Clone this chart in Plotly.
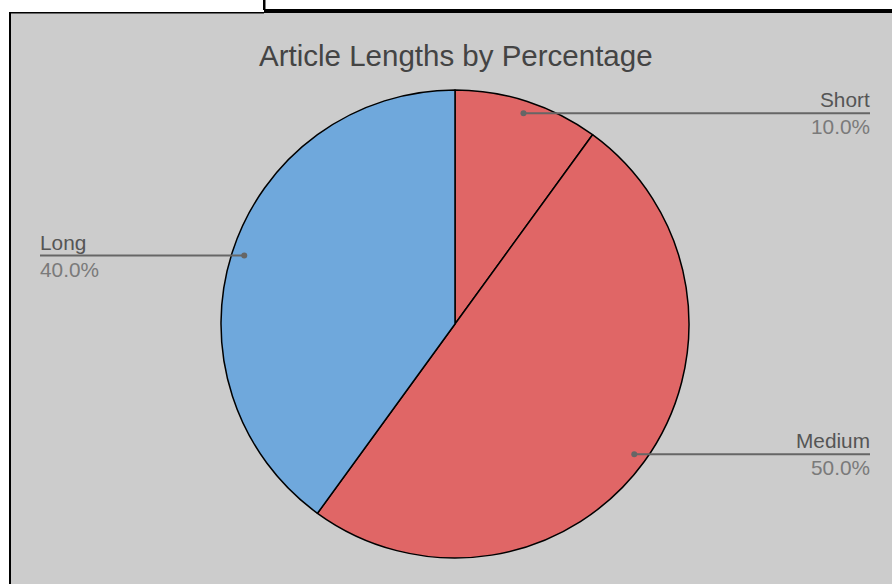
import math
import plotly.graph_objects as go

# Data
categories = ["Short", "Medium", "Long"]
values = [10, 50, 40]
colors = ["#e06666", "#e06666", "#6fa8dc"]
title_text = "Article Lengths by Percentage"

W, H = 892, 584
CX, CY, R = 455, 324, 234


def px(x):
    return x / W


def py(y):
    return 1 - y / H


fig = go.Figure()
fig.add_trace(go.Pie(
    labels=categories, values=values, sort=False, direction="clockwise", rotation=0,
    marker=dict(colors=colors, line=dict(color="#000000", width=1.5)),
    textinfo="none", hoverinfo="label+percent", showlegend=False,
    domain=dict(x=[px(CX - R), px(CX + R)], y=[py(CY + R), py(CY - R)]),
))

shapes = []


def rect(x0, y0, x1, y1, color, layer="below"):
    return dict(type="rect", xref="paper", yref="paper", x0=px(x0), x1=px(x1),
                y0=py(y1), y1=py(y0), fillcolor=color, line=dict(width=0), layer=layer)


shapes.append(rect(10, 12, W, H, "#cccccc"))
shapes.append(rect(9, 12, 11, H, "#000000"))
shapes.append(rect(9, 12, 264, 13.5, "#000000"))
shapes.append(rect(264, 9, W, 13, "#000000"))
shapes.append(rect(263, 0, 265.5, 10, "#000000"))

annotations = [dict(text=title_text, x=px(CX + 1), y=py(56), xref="paper", yref="paper",
                    xanchor="center", yanchor="middle", showarrow=False,
                    font=dict(size=29.5, color="#444444", family="Liberation Sans, Arial"))]

total = sum(values)
cum = 0
for lab, v in zip(categories, values):
    mid = (cum + v / 2) / total * 2 * math.pi
    cum += v
    dr = R * 0.947
    dx = CX + dr * math.sin(mid)
    dy = CY - dr * math.cos(mid)
    right = math.sin(mid) >= 0
    ex = CX + 415 if right else CX - 415
    shapes.append(dict(type="line", xref="paper", yref="paper", x0=px(dx), y0=py(dy),
                       x1=px(ex), y1=py(dy), line=dict(color="#666666", width=2), layer="above"))
    shapes.append(dict(type="circle", xref="paper", yref="paper", x0=px(dx - 3), x1=px(dx + 3),
                       y0=py(dy + 3), y1=py(dy - 3), fillcolor="#666666",
                       line=dict(width=0), layer="above"))
    anchor = "right" if right else "left"
    tx = ex + 2 if right else ex - 2
    annotations.append(dict(text=lab, x=px(tx), y=py(dy - 13.5), xref="paper", yref="paper",
                            xanchor=anchor, yanchor="middle", showarrow=False,
                            font=dict(size=20.8, color="#555555", family="Liberation Sans, Arial")))
    annotations.append(dict(text=f"{v / total * 100:.1f}%", x=px(tx), y=py(dy + 13.5),
                            xref="paper", yref="paper", xanchor=anchor, yanchor="middle",
                            showarrow=False,
                            font=dict(size=20.8, color="#7a7a7a", family="Liberation Sans, Arial")))

fig.update_layout(
    width=W, height=H, margin=dict(l=0, r=0, t=0, b=0),
    paper_bgcolor="#ffffff", plot_bgcolor="#ffffff",
    shapes=shapes, annotations=annotations,
)
fig.write_html("out.html")
